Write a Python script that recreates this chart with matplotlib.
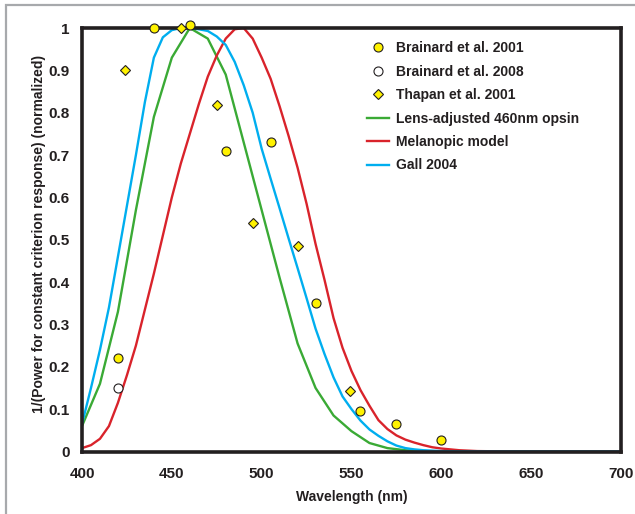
import matplotlib
matplotlib.use("Agg")
import matplotlib.pyplot as plt
from matplotlib.patches import Rectangle

plt.rcParams["font.family"] = ["Liberation Sans", "DejaVu Sans"]

# ── Data ──────────────────────────────────────────────────────────────────────
brainard01_wl = [420, 440, 460, 480, 505, 530, 555, 575, 600]
brainard01_v  = [0.22, 1.0, 1.007, 0.71, 0.73, 0.35, 0.095, 0.066, 0.028]

brainard08_wl = [420]
brainard08_v  = [0.15]

thapan_wl = [424, 455, 475, 495, 520, 549]
thapan_v  = [0.90, 1.0, 0.818, 0.539, 0.485, 0.144]

lens_wl = [400, 410, 420, 430, 440, 450, 460, 470, 480, 490, 500, 510, 520,
           530, 540, 550, 560, 570, 580, 590, 600, 650, 700]
lens_v  = [0.06, 0.16, 0.33, 0.57, 0.79, 0.93, 1.0, 0.975, 0.89, 0.73, 0.57,
           0.41, 0.255, 0.15, 0.085, 0.048, 0.02, 0.008, 0.003, 0.001, 0.0,
           0.0, 0.0]

mel_wl = [400, 405, 410, 415, 420, 425, 430, 435, 440, 445, 450, 455, 460,
          465, 470, 475, 480, 485, 490, 495, 500, 505, 510, 515, 520, 525,
          530, 535, 540, 545, 550, 555, 560, 565, 570, 575, 580, 585, 590,
          595, 600, 610, 620, 640, 700]
mel_v  = [0.008, 0.015, 0.03, 0.06, 0.115, 0.18, 0.25, 0.335, 0.42, 0.51,
          0.60, 0.68, 0.75, 0.82, 0.885, 0.935, 0.975, 0.997, 1.0, 0.975,
          0.93, 0.88, 0.815, 0.745, 0.67, 0.585, 0.49, 0.405, 0.315, 0.245,
          0.19, 0.145, 0.108, 0.074, 0.053, 0.038, 0.028, 0.021, 0.015,
          0.01, 0.007, 0.003, 0.001, 0.0, 0.0]

gall_wl = [400, 405, 410, 415, 420, 425, 430, 435, 440, 445, 450, 455, 460,
           465, 470, 475, 480, 485, 490, 495, 500, 505, 510, 515, 520, 525,
           530, 535, 540, 545, 550, 555, 560, 565, 570, 575, 580, 585, 590,
           600, 620, 700]
gall_v  = [0.065, 0.15, 0.24, 0.34, 0.46, 0.58, 0.70, 0.825, 0.93, 0.978,
           0.995, 1.0, 1.0, 0.997, 0.993, 0.98, 0.96, 0.92, 0.865, 0.80,
           0.715, 0.644, 0.574, 0.503, 0.433, 0.362, 0.29, 0.23, 0.175, 0.13,
           0.10, 0.073, 0.052, 0.037, 0.024, 0.014, 0.008, 0.005, 0.003,
           0.001, 0.0, 0.0]

x_ticks = [400, 450, 500, 550, 600, 650, 700]
y_ticks = [0, 0.1, 0.2, 0.3, 0.4, 0.5, 0.6, 0.7, 0.8, 0.9, 1]
y_tick_labels = ["0", "0.1", "0.2", "0.3", "0.4", "0.5", "0.6", "0.7", "0.8",
                 "0.9", "1"]

# ── Plot ──────────────────────────────────────────────────────────────────────
INK    = "#231f20"
YELLOW = "#fff200"
GREEN  = "#3aaa35"
RED    = "#d9232b"
BLUE   = "#00aeef"

fig = plt.figure(figsize=(6.35, 5.14), dpi=100)
fig.patches.append(Rectangle((6 / 635, -0.1), 1.2, 1 - 5 / 514 + 0.1,
                             transform=fig.transFigure, fill=False,
                             edgecolor="#a7a9ac", lw=1.6, zorder=0))
ax = fig.add_axes([82 / 635, 62.5 / 514, 539 / 635, 423.5 / 514])

ax.plot(lens_wl, lens_v, color=GREEN, lw=1.7, label="Lens-adjusted 460nm opsin")
ax.plot(mel_wl, mel_v, color=RED, lw=1.7, label="Melanopic model")
ax.plot(gall_wl, gall_v, color=BLUE, lw=1.7, label="Gall 2004")

ax.plot(brainard01_wl, brainard01_v, "o", ms=6.5, mfc=YELLOW, mec=INK, mew=0.8,
        clip_on=False, zorder=5, label="Brainard et al. 2001")
ax.plot(brainard08_wl, brainard08_v, "o", ms=6.5, mfc="white", mec=INK, mew=0.8,
        clip_on=False, zorder=5, label="Brainard et al. 2008")
ax.plot(thapan_wl, thapan_v, "D", ms=4.8, mfc=YELLOW, mec=INK, mew=0.8,
        clip_on=False, zorder=5, label="Thapan et al. 2001")

ax.set_xlim(400, 700)
ax.set_ylim(0, 1)
ax.set_xticks(x_ticks)
ax.set_xticklabels([str(t) for t in x_ticks])
ax.set_yticks(y_ticks)
ax.set_yticklabels(y_tick_labels)
ax.tick_params(length=0, labelsize=11, labelcolor=INK)
ax.tick_params(axis="x", pad=11)
ax.tick_params(axis="y", pad=9)
for lab in ax.get_xticklabels() + ax.get_yticklabels():
    lab.set_fontweight("bold")
for sp in ax.spines.values():
    sp.set_linewidth(2.6)
    sp.set_color(INK)

ax.set_xlabel("Wavelength (nm)", fontsize=10, fontweight="bold", color=INK)
ax.set_ylabel("1/(Power for constant criterion response) (normalized)",
              fontsize=10, fontweight="bold", color=INK)
ax.xaxis.set_label_coords(0.5, -0.092)
ax.yaxis.set_label_coords(-0.067, 0.514)

handles, labels = ax.get_legend_handles_labels()
order = [3, 4, 5, 0, 1, 2]
ax.legend([handles[i] for i in order], [labels[i] for i in order],
          loc="upper left", bbox_to_anchor=(0.518, 0.982), frameon=False,
          prop={"weight": "bold", "size": 10}, labelcolor=INK,
          handlelength=1.6, handletextpad=0.5, labelspacing=0.68,
          borderaxespad=0)

fig.savefig("out.png", dpi=100)
